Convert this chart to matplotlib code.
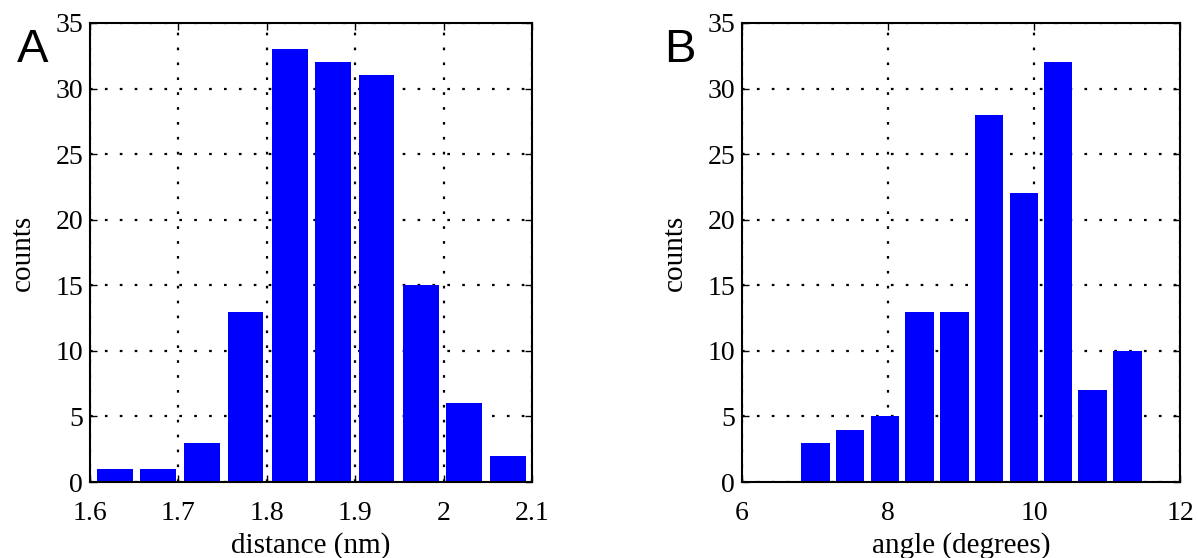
import numpy as np
import matplotlib
matplotlib.use("Agg")
import matplotlib.pyplot as plt

# panel A: distance histogram
dist_centers = [1.628, 1.677, 1.727, 1.776, 1.826, 1.875, 1.924, 1.974, 2.023, 2.073]
dist_counts = [1, 1, 3, 13, 33, 32, 31, 15, 6, 2]

# panel B: angle histogram
ang_centers = [7.01, 7.48, 7.96, 8.43, 8.91, 9.38, 9.86, 10.33, 10.80, 11.28]
ang_counts = [3, 4, 5, 13, 13, 28, 22, 32, 7, 10]

plt.rcParams['font.family'] = ['Liberation Serif', 'DejaVu Serif']
plt.rcParams['xtick.direction'] = 'in'
plt.rcParams['ytick.direction'] = 'in'

fig = plt.figure(figsize=(11.98, 5.58), dpi=100)
W, H = 1198, 558
axA = fig.add_axes([90 / W, 1 - 482 / H, 442 / W, 459 / H])
axB = fig.add_axes([742 / W, 1 - 482 / H, 438 / W, 459 / H])


def style(ax, xlim, xticks, xlabel):
    ax.set_xlim(*xlim)
    ax.set_ylim(0, 35)
    ax.set_xticks(xticks)
    ax.set_yticks(range(0, 36, 5))
    ax.set_axisbelow(True)
    ax.grid(True, color='black', linestyle=(0, (1.2, 5.5)), linewidth=1.6)
    ax.tick_params(labelsize=20, length=5, width=1, top=True, right=True)
    ax.tick_params(axis='x', pad=14)
    ax.tick_params(axis='y', pad=5)
    for s in ax.spines.values():
        s.set_linewidth(1.5)
        s.set_zorder(3)
    ax.set_xlabel(xlabel, fontsize=21, labelpad=4)
    ax.set_ylabel('counts', fontsize=21, labelpad=14)


axA.bar(dist_centers, dist_counts, width=0.0405, color='#0000ff', zorder=2)
style(axA, (1.6, 2.1), [1.6, 1.7, 1.8, 1.9, 2.0, 2.1], 'distance (nm)')
axA.set_xticklabels(['1.6', '1.7', '1.8', '1.9', '2', '2.1'])

axB.bar(ang_centers, ang_counts, width=0.39, color='#0000ff', zorder=2)
style(axB, (6, 12), [6, 8, 10, 12], 'angle (degrees)')

fig.text(17 / W, 1 - 62 / H, 'A', fontsize=34, family='Liberation Sans')
fig.text(664 / W, 1 - 62 / H, 'B', fontsize=34, family='Liberation Sans')

fig.savefig('out.png', dpi=100)
